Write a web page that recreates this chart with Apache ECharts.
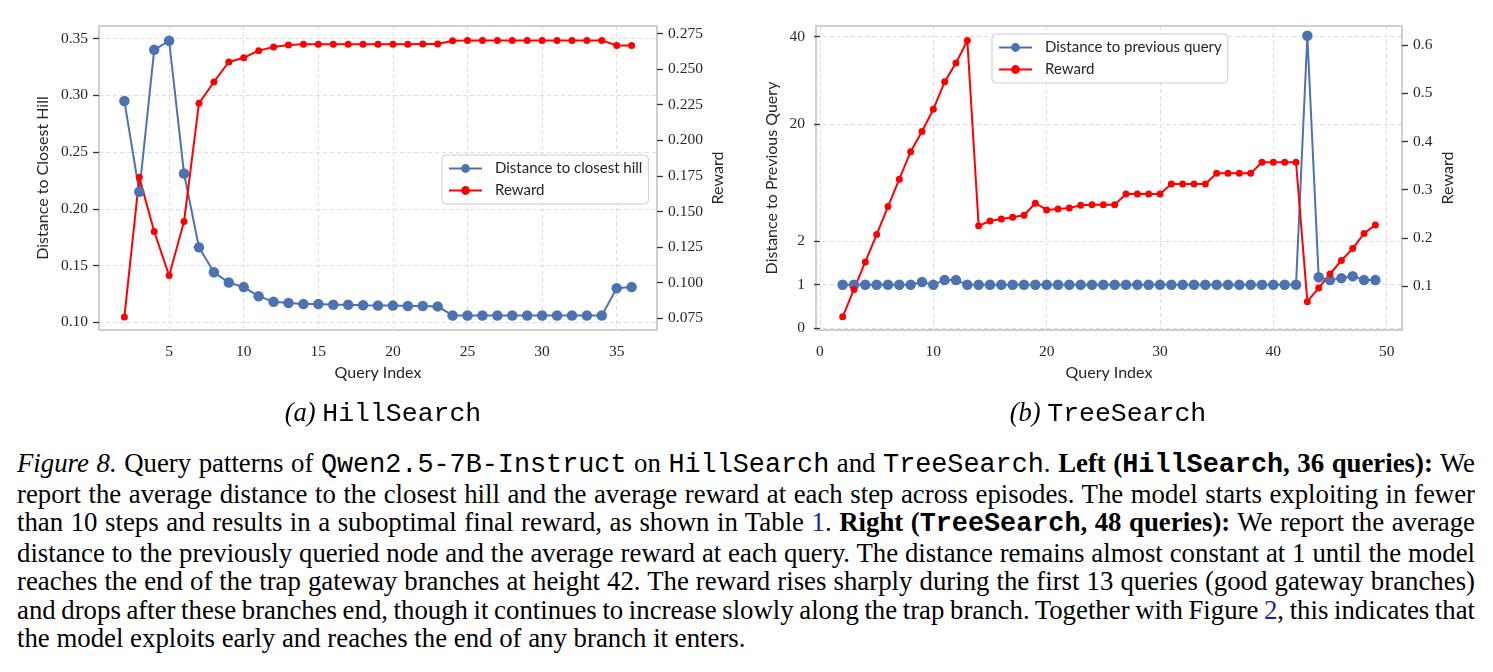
<!DOCTYPE html>
<html>
<head>
<meta charset="utf-8">
<script src="https://cdn.jsdelivr.net/npm/echarts@6/dist/echarts.min.js"></script>
<style>
  body { margin: 0; background: #fff; width: 1493px; height: 672px; overflow: hidden; position: relative; font-family: "Liberation Serif", serif; color: #000; }
  #chart { position: absolute; left: 0; top: 0; width: 1493px; height: 440px; }
  .sub { position: absolute; top: 396px; font-size: 26.5px; line-height: 32px; white-space: nowrap; transform: translateX(-50%); }
  .tt { font-family: "Liberation Mono", monospace; }
  #cap { position: absolute; left: 17px; top: 449px; width: 1458px; font-size: 26.8px; line-height: 28.5px; }
  #cap div { text-align: justify; text-align-last: justify; }
  #cap div.tight { word-spacing: -2.5px; }
  #cap div.last { text-align-last: left; }
  .ref { color: #1f1f9e; }
</style>
</head>
<body>
<div id="chart"></div>
<div class="sub" style="left:383px"><i>(a)</i> <span class="tt">HillSearch</span></div>
<div class="sub" style="left:1108px"><i>(b)</i> <span class="tt">TreeSearch</span></div>
<div id="cap">
  <div><i>Figure 8.</i> Query patterns of <span class="tt">Qwen2.5-7B-Instruct</span> on <span class="tt">HillSearch</span> and <span class="tt">TreeSearch</span>. <b>Left (<span class="tt">HillSearch</span>, 36 queries):</b> We</div>
  <div>report the average distance to the closest hill and the average reward at each step across episodes. The model starts exploiting in fewer</div>
  <div>than 10 steps and results in a suboptimal final reward, as shown in Table <span class="ref">1</span>. <b>Right (<span class="tt">TreeSearch</span>, 48 queries):</b> We report the average</div>
  <div>distance to the previously queried node and the average reward at each query. The distance remains almost constant at 1 until the model</div>
  <div>reaches the end of the trap gateway branches at height 42. The reward rises sharply during the first 13 queries (good gateway branches)</div>
  <div class="tight">and drops after these branches end, though it continues to increase slowly along the trap branch. Together with Figure <span class="ref">2</span>, this indicates that</div>
  <div class="last">the model exploits early and reaches the end of any branch it enters.</div>
</div>
<script>
// (a) HillSearch
const hillQuery = [2, 3, 4, 5, 6, 7, 8, 9, 10, 11, 12, 13, 14, 15, 16, 17, 18, 19, 20, 21, 22, 23, 24, 25, 26, 27, 28, 29, 30, 31, 32, 33, 34, 35, 36];
const hillDistance = [0.295, 0.215, 0.340, 0.348, 0.231, 0.166, 0.144, 0.135, 0.131, 0.123, 0.118, 0.117, 0.116, 0.116, 0.1155, 0.1155, 0.115, 0.1147, 0.1147, 0.1144, 0.1144, 0.114,
  0.106, 0.106, 0.106, 0.106, 0.106, 0.106, 0.106, 0.106, 0.106, 0.106, 0.106, 0.130, 0.131];
const hillReward = [0.076, 0.174, 0.136, 0.105, 0.143, 0.226, 0.241, 0.255, 0.258, 0.263, 0.2655, 0.267, 0.2675, 0.2675, 0.2675, 0.2675, 0.2675, 0.2675, 0.2675, 0.2675, 0.2677, 0.2677,
  0.270, 0.2702, 0.2702, 0.2702, 0.2702, 0.2702, 0.2702, 0.2702, 0.2702, 0.2702, 0.2702, 0.2666, 0.2666];
const hillXTicks = [5, 10, 15, 20, 25, 30, 35];
const hillDistTicks = [0.10, 0.15, 0.20, 0.25, 0.30, 0.35];
const hillRewardTicks = [0.075, 0.100, 0.125, 0.150, 0.175, 0.200, 0.225, 0.250, 0.275];

// (b) TreeSearch
const treeQuery = [2, 3, 4, 5, 6, 7, 8, 9, 10, 11, 12, 13, 14, 15, 16, 17, 18, 19, 20, 21, 22, 23, 24, 25,
  26, 27, 28, 29, 30, 31, 32, 33, 34, 35, 36, 37, 38, 39, 40, 41, 42, 43, 44, 45, 46, 47, 48, 49];
const treeDistance = [1, 1, 1, 1, 1, 1, 1, 1.06, 1, 1.105, 1.105, 1, 1, 1, 1, 1, 1, 1, 1, 1, 1, 1, 1, 1,
  1, 1, 1, 1, 1, 1, 1, 1, 1, 1, 1, 1, 1, 1, 1, 1, 1, 40.2, 1.17, 1.105, 1.15, 1.195, 1.105, 1.105];
const treeReward = [0.036, 0.093, 0.150, 0.207, 0.265, 0.322, 0.379, 0.421, 0.467, 0.524, 0.563, 0.610, 0.225, 0.235, 0.239, 0.243, 0.247, 0.272, 0.258, 0.260, 0.262, 0.268, 0.269, 0.269,
  0.269, 0.291, 0.291, 0.291, 0.291, 0.312, 0.312, 0.312, 0.312, 0.334, 0.334, 0.334, 0.334, 0.357, 0.357, 0.357, 0.357, 0.0675, 0.096, 0.125, 0.153, 0.178, 0.209, 0.227];
const treeXTicks = [0, 10, 20, 30, 40, 50];
const treeDistTicks = [0, 1, 2, 20, 40];
const treeRewardTicks = [0.1, 0.2, 0.3, 0.4, 0.5, 0.6];

// the distance axis of (b) is stretched: linear up to 2, squeezed above
const warpStops = [0, 1, 2, 20, 40];
const warpPlaces = [0, 1, 2, 4.69, 6.69];
function warp(v) {
  let i = 1;
  while (i < warpStops.length - 1 && v > warpStops[i]) i++;
  const a = warpStops[i - 1], b = warpStops[i];
  return warpPlaces[i - 1] + (v - a) / (b - a) * (warpPlaces[i] - warpPlaces[i - 1]);
}
const treeDistLabel = {};
treeDistTicks.forEach(t => { treeDistLabel[warp(t).toFixed(3)] = String(t); });

const BLUE = '#4C72B0';
const RED = '#FF0000';
const tickFont = { fontFamily: 'Liberation Serif', fontSize: 15.5, color: '#262626' };
const nameFont = { fontFamily: 'Lato', fontSize: 16, color: '#262626' };
const grid = { color: '#dddddd', type: [4, 3], width: 1 };

function xAxis(gridIndex, min, max, ticks) {
  return {
    type: 'value', gridIndex, min, max,
    name: 'Query Index', nameLocation: 'middle', nameGap: 33, nameTextStyle: nameFont,
    axisLine: { show: false }, axisTick: { show: false, customValues: ticks },
    axisLabel: Object.assign({ customValues: ticks, margin: 14 }, tickFont),
    splitLine: { show: true, lineStyle: grid }
  };
}
function yAxis(gridIndex, side, min, max, ticks, name, gap, fmt, split) {
  return {
    type: 'value', gridIndex, position: side, min, max,
    name, nameLocation: 'middle', nameGap: gap, nameTextStyle: nameFont,
    axisLine: { show: false },
    axisTick: { show: true, length: 6, customValues: ticks, lineStyle: { color: '#333', width: 1.3 } },
    axisLabel: Object.assign({ customValues: ticks, margin: 11, formatter: fmt }, tickFont),
    splitLine: { show: split, lineStyle: grid }
  };
}
function line(name, xs, ys, xi, yi, color, size) {
  return {
    type: 'line', name, xAxisIndex: xi, yAxisIndex: yi,
    data: xs.map((x, i) => [x, ys[i]]),
    symbol: 'circle', symbolSize: size, showSymbol: true,
    lineStyle: { color, width: 2 }, itemStyle: { color }
  };
}
const legendBase = {
  orient: 'vertical', itemWidth: 33, itemHeight: 11, itemGap: 7,
  padding: [6, 6, 6, 6], backgroundColor: 'rgba(255,255,255,0.85)',
  borderColor: '#cccccc', borderWidth: 1, borderRadius: 4,
  textStyle: { fontFamily: 'Lato', fontSize: 15, color: '#262626', padding: [0, 0, 0, 8] }
};

const chart = echarts.init(document.getElementById('chart'));
chart.setOption({
  animation: false,
  grid: [
    { left: 99, top: 26, width: 558, height: 304, show: true, borderColor: '#cfcfcf', borderWidth: 2 },
    { left: 816, top: 26, width: 586, height: 304, show: true, borderColor: '#cfcfcf', borderWidth: 2 }
  ],
  xAxis: [
    xAxis(0, 0.3, 37.7, hillXTicks),
    xAxis(1, -0.35, 51.35, treeXTicks)
  ],
  yAxis: [
    yAxis(0, 'left', 0.0932, 0.361, hillDistTicks, 'Distance to Closest Hill', 48, v => v.toFixed(2), true),
    yAxis(0, 'right', 0.0668, 0.2803, hillRewardTicks, 'Reward', 53, v => v.toFixed(3), false),
    yAxis(1, 'left', -0.039, 6.932, treeDistTicks.map(warp), 'Distance to Previous Query', 36, v => treeDistLabel[v.toFixed(3)] || '', true),
    yAxis(1, 'right', 0.0087, 0.640, treeRewardTicks, 'Reward', 38, v => v.toFixed(1), false)
  ],
  legend: [
    Object.assign({ left: 442, top: 155, data: ['Distance to closest hill', 'Reward'] }, legendBase),
    Object.assign({ left: 992, top: 34, data: ['Distance to previous query', 'Reward'] }, legendBase)
  ],
  series: [
    line('Distance to closest hill', hillQuery, hillDistance, 0, 0, BLUE, 10.5),
    line('Reward', hillQuery, hillReward, 0, 1, RED, 7),
    line('Distance to previous query', treeQuery, treeDistance.map(warp), 1, 2, BLUE, 10.5),
    line('Reward', treeQuery, treeReward, 1, 3, RED, 7)
  ]
});
</script>
</body>
</html>
